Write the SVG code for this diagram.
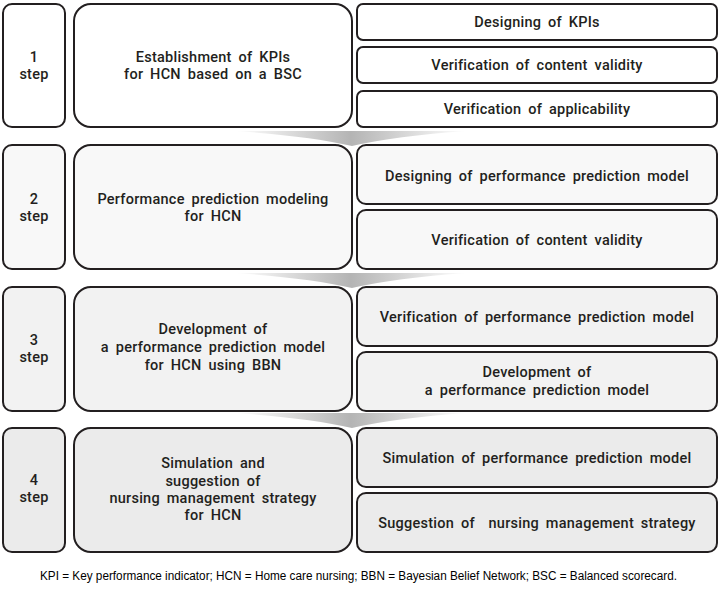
<svg xmlns="http://www.w3.org/2000/svg" width="721" height="589" viewBox="0 0 721 589">
<defs>
<linearGradient id="fun" x1="0" y1="0" x2="1" y2="0">
<stop offset="0" stop-color="#ffffff"/>
<stop offset="0.5" stop-color="#b4b4b4"/>
<stop offset="1" stop-color="#ffffff"/>
</linearGradient>
</defs>
<style>
rect{stroke:#231f20;stroke-width:2}
.r1{fill:#ffffff}.r2{fill:#f8f8f8}.r3{fill:#f2f2f2}.r4{fill:#ebebeb}
text{font-family:Roboto,"Noto Sans","DejaVu Sans",sans-serif;font-size:14.5px;font-weight:500;fill:#231f20;text-anchor:middle;word-spacing:3px;letter-spacing:0.25px}
.fn{font-family:"Liberation Sans",Arial,sans-serif;font-size:12.5px;font-weight:400;text-anchor:start;word-spacing:0;letter-spacing:0;fill:#000}
</style>
<g id="connectors">
<path d="M235,131 L467,131 Q395,136 352,146 Q309,136 235,131 Z" fill="url(#fun)"/>
<path d="M235,273 L467,273 Q395,278 352,288 Q309,278 235,273 Z" fill="url(#fun)"/>
<path d="M235,413 L467,413 Q395,418 352,428 Q309,418 235,413 Z" fill="url(#fun)"/>
</g>
<g id="step1">
<rect class="r1" x="3" y="4" width="62" height="123" rx="9"/>
<text x="34" y="62">1</text><text x="34" y="79">step</text>
</g>
<g id="main1">
<rect class="r1" x="74" y="4" width="278" height="123" rx="17"/>
<text x="213" y="62">Establishment of KPIs</text><text x="213" y="79">for HCN based on a BSC</text>
</g>
<g id="sub1a">
<rect class="r1" x="357" y="4" width="360" height="36" rx="6"/>
<text x="537" y="27">Designing of KPIs</text>
</g>
<g id="sub1b">
<rect class="r1" x="357" y="47" width="360" height="36" rx="6"/>
<text x="537" y="70">Verification of content validity</text>
</g>
<g id="sub1c">
<rect class="r1" x="357" y="91" width="360" height="36" rx="6"/>
<text x="537" y="114">Verification of applicability</text>
</g>
<g id="step2">
<rect class="r2" x="3" y="145" width="62" height="124" rx="9"/>
<text x="34" y="204">2</text><text x="34" y="221">step</text>
</g>
<g id="main2">
<rect class="r2" x="74" y="145" width="278" height="124" rx="17"/>
<text x="213" y="204">Performance prediction modeling</text><text x="213" y="221">for HCN</text>
</g>
<g id="sub2a">
<rect class="r2" x="357" y="145" width="360" height="59" rx="9"/>
<text x="537" y="181">Designing of performance prediction model</text>
</g>
<g id="sub2b">
<rect class="r2" x="357" y="210" width="360" height="59" rx="9"/>
<text x="537" y="245">Verification of content validity</text>
</g>
<g id="step3">
<rect class="r3" x="3" y="287" width="62" height="124" rx="9"/>
<text x="34" y="345">3</text><text x="34" y="362">step</text>
</g>
<g id="main3">
<rect class="r3" x="74" y="287" width="278" height="124" rx="17"/>
<text x="213" y="334">Development of</text><text x="213" y="352">a performance prediction model</text><text x="213" y="370">for HCN using BBN</text>
</g>
<g id="sub3a">
<rect class="r3" x="357" y="287" width="360" height="59" rx="9"/>
<text x="537" y="322">Verification of performance prediction model</text>
</g>
<g id="sub3b">
<rect class="r3" x="357" y="352" width="360" height="59" rx="9"/>
<text x="537" y="377">Development of</text><text x="537" y="395">a performance prediction model</text>
</g>
<g id="step4">
<rect class="r4" x="3" y="428" width="62" height="124" rx="9"/>
<text x="34" y="485">4</text><text x="34" y="502">step</text>
</g>
<g id="main4">
<rect class="r4" x="74" y="428" width="278" height="124" rx="17"/>
<text x="213" y="468">Simulation and</text><text x="213" y="486">suggestion of</text><text x="213" y="503">nursing management strategy</text><text x="213" y="520">for HCN</text>
</g>
<g id="sub4a">
<rect class="r4" x="357" y="428" width="360" height="59" rx="9"/>
<text x="537" y="463">Simulation of performance prediction model</text>
</g>
<g id="sub4b">
<rect class="r4" x="357" y="493" width="360" height="59" rx="9"/>
<text x="537" y="528" xml:space="preserve">Suggestion of  nursing management strategy</text>
</g>
<text class="fn" x="40" y="580" textLength="637" lengthAdjust="spacingAndGlyphs">KPI = Key performance indicator; HCN = Home care nursing; BBN = Bayesian Belief Network; BSC = Balanced scorecard.</text>
</svg>
